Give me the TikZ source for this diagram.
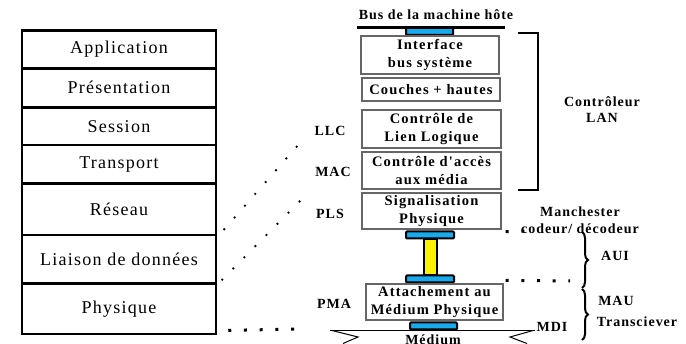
\documentclass[tikz,border=0pt]{standalone}
\usepackage{fontspec}
\setmainfont{Liberation Serif}
\newfontfamily\osifont[LetterSpace=7]{Liberation Serif}
\newfontfamily\lanfont[LetterSpace=7]{Liberation Serif}
\newfontfamily\boxfont[LetterSpace=8]{Liberation Serif}
\usepackage{tikz}
\usetikzlibrary{positioning, decorations.pathreplacing}
\definecolor{busblue}{RGB}{25,170,235}

\begin{document}
\begin{tikzpicture}[
    x=1pt, y=-1pt,
    layer/.style={rectangle, draw, line width=2.5pt, minimum width=194pt, inner sep=0pt, font=\osifont\fontsize{18}{20}\selectfont},
    lanbox/.style={rectangle, draw=black!60, line width=1.2pt, align=center, inner sep=0pt, font=\boxfont\bfseries\fontsize{14.5}{18}\selectfont},
    tag/.style={font=\lanfont\bfseries\fontsize{14}{16}\selectfont, align=center, inner sep=0pt},
    plug/.style={rectangle, draw, line width=2pt, fill=busblue, rounded corners=1pt, minimum height=7pt, inner sep=0pt},
    dotline/.style={line width=2.6pt, line cap=round, dash pattern=on 0pt off 15.7pt},
    sqdots/.style={line width=3pt, dash pattern=on 3pt off 12.7pt},
    brace/.style={decorate, decoration={brace, amplitude=6pt}, line width=2pt}
  ]
    \useasboundingbox (0,0) rectangle (686,344);

    % OSI stack
    \node[layer, minimum height=37.6pt] (app) at (119,49.5) {Application};
    \node[layer, minimum height=39pt] (pres) at (119,87.8) {Présentation};
    \node[layer, minimum height=37.7pt] (sess) at (119,126.2) {Session};
    \node[layer, minimum height=38.3pt] (trans) at (119,164.2) {Transport};
    \node[layer, minimum height=51.7pt] (res) at (119,209.2) {Réseau};
    \node[layer, minimum height=48.3pt] (liaison) at (119,259.2) {Liaison de données};
    \node[layer, minimum height=50.7pt] (phys) at (119,308.7) {Physique};

    % Host bus
    \node[tag] (bus) at (436,15) {Bus de la machine hôte};
    \draw[line width=3pt] (357,28) -- (505,28);
    \node[plug, minimum width=47pt] (plugtop) at (429.5,31.5) {};

    % LAN controller stack
    \node[lanbox, minimum width=138pt, minimum height=38pt] (iface) at (430,55) {Interface\\bus système};
    \node[lanbox, minimum width=138pt, minimum height=23pt] (couches) at (431,89.5) {Couches + hautes};
    \node[lanbox, minimum width=139pt, minimum height=38pt] (llcbox) at (431.5,129) {Contrôle de\\Lien Logique};
    \node[lanbox, minimum width=139pt, minimum height=37pt] (macbox) at (431.5,170.5) {Contrôle d'accès\\aux média};
    \node[lanbox, minimum width=139pt, minimum height=36pt] (plsbox) at (431.5,211) {Signalisation\\Physique};

    \node[tag] (llc) at (330,131) {LLC};
    \node[tag] (mac) at (333,172) {MAC};
    \node[tag] (pls) at (330,214) {PLS};

    \draw[line width=2.5pt] (518,33) -| (538,190) -- (518,190);
    \node[tag] (ctrl) at (602,109.5) {Contrôleur\\LAN};

    % AUI cable
    \node[draw, line width=2pt, fill=yellow, minimum width=13pt, minimum height=36pt, inner sep=0pt] (cable) at (430.5,257) {};
    \node[plug, minimum width=48pt] (plugpls) at (430,235) {};
    \node[plug, minimum width=48pt] (plugmau) at (430,279) {};

    % MAU
    \node[lanbox, minimum width=137pt, minimum height=36pt] (pmabox) at (434.5,302) {Attachement au\\Médium Physique};
    \node[tag] (pma) at (334,304) {PMA};

    % Medium
    \draw[line width=1pt] (330,330.5) -- (535,330.5);
    \draw[line width=1pt] (332,330.5) -- (358,337) -- (343,343.5);
    \draw[line width=1pt] (533,330.5) -- (510,337) -- (527,343.5);
    \node[plug, minimum width=47pt] (plugmdi) at (433.5,326) {};
    \node[tag] (medium) at (433,340) {Médium};
    \node[tag] (mdi) at (552,327) {MDI};

    % Right labels
    \node[tag] (manch) at (580,212) {Manchester};
    \node[tag] (codec) at (580,228.5) {codeur/ décodeur};
    \draw[brace] (582,232) -- (582,288);
    \draw[brace] (582,289) -- (582,340);
    \node[tag] (aui) at (615,256) {AUI};
    \node[tag] (mau) at (616,301) {MAU};
    \node[tag] (trx) at (637,322) {Transciever};

    % Dotted links
    \coordinate (llcend) at (299,144);
    \coordinate (plsend) at (302,199);
    \coordinate (medend) at (306,329);
    \coordinate (mauend) at (570,281);
    \coordinate (codend) at (525,231);
    \draw[dotline] ([xshift=7pt,yshift=7pt]res.south east) -- (llcend);
    \draw[dotline] ([xshift=5pt,yshift=5pt]liaison.south east) -- (plsend);
    \draw[sqdots] ([xshift=11pt,yshift=5pt]phys.south east) -- (medend);
    \draw[sqdots] ([xshift=2pt,yshift=3pt]pmabox.north east) -- (mauend);
    \draw[sqdots] ([xshift=4pt,yshift=-2pt]plsbox.south east) -- (codend);

  \end{tikzpicture}
\end{document}
